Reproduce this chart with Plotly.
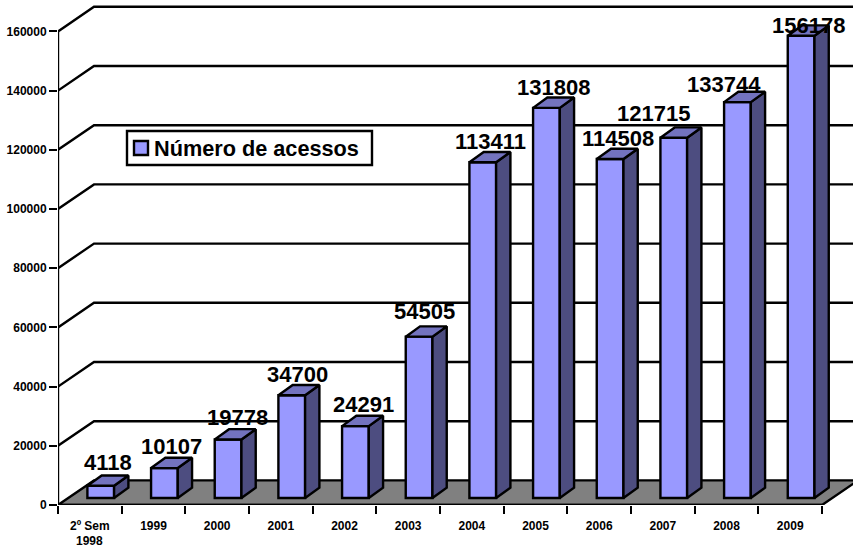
import plotly.graph_objects as go

categories = ["2º Sem", "1999", "2000", "2001", "2002", "2003", "2004", "2005", "2006", "2007", "2008", "2009"]
second_line = "1998"
acessos = [4118, 10107, 19778, 34700, 24291, 54505, 113411, 131808, 114508, 121715, 133744, 156178]
y_ticks = [0, 20000, 40000, 60000, 80000, 100000, 120000, 140000, 160000]
series_name = "Número de acessos"
label_dx = [0, 0, 2, -1, 1, -2, 1, 0, 1, -27, -21, 0]
label_dy = [23, 22, 22, 21, 22, 25, 21, 20, 21, 24, 18, 10]

FONT = "Liberation Sans"
W, H = 853, 548
L, B = 58, 43
PX_X = 63.67            # px per category
PX_Y = 59.2 / 20000     # px per value unit
fx = lambda px: px / PX_X
fy = lambda px: px / PX_Y
xmax = (W - L) / PX_X
ymax = (H - B) / PX_Y
n = len(categories)

# 3-D projection, in data units
back_x, back_y = fx(36), fy(24.6)
bar_dx, bar_dy = fx(14.3), fy(10.3)
bar_w = fx(26.7)
bar_sx, base = fx(10.9), fy(7)
FRONT, SIDE, TOP = "#9999FF", "#4D4D80", "#7373BF"
LW = 2.4

centers = [i + 0.5 + bar_sx for i in range(n)]

side_x, side_y, top_x, top_y = [], [], [], []
for c, v in zip(centers, acessos):
    l, r, t = c - bar_w / 2, c + bar_w / 2, base + v
    side_x += [r, r + bar_dx, r + bar_dx, r, r, None]
    side_y += [base, base + bar_dy, t + bar_dy, t, base, None]
    top_x += [l, l + bar_dx, r + bar_dx, r, l, None]
    top_y += [t, t + bar_dy, t + bar_dy, t, t, None]

fig = go.Figure()
fig.add_bar(x=centers, y=acessos, base=base, width=bar_w, name=series_name,
            marker=dict(color=FRONT, line=dict(color="black", width=LW)), showlegend=False)
fig.add_scatter(x=side_x, y=side_y, mode="lines", fill="toself", fillcolor=SIDE,
                line=dict(color="black", width=LW), showlegend=False, hoverinfo="skip")
fig.add_scatter(x=top_x, y=top_y, mode="lines", fill="toself", fillcolor=TOP,
                line=dict(color="black", width=LW), showlegend=False, hoverinfo="skip")

shapes = []
line = dict(color="black", width=LW)
# floor
shapes.append(dict(type="path", layer="below", xref="x", yref="y", fillcolor="#808080", line=line,
                   path=f"M0,0 L{n},0 L{n + back_x},{back_y} L{back_x},{back_y} Z"))
# grid lines running along the side wall and the back wall
for v in y_ticks[1:]:
    shapes.append(dict(type="path", layer="below", xref="x", yref="y", line=line,
                       path=f"M0,{v} L{back_x},{v + back_y} L{n + back_x},{v + back_y}"))
# axes
shapes.append(dict(type="line", layer="above", xref="x", yref="y", x0=0, x1=0, y0=0, y1=y_ticks[-1], line=line))
shapes.append(dict(type="line", layer="above", xref="x", yref="y", x0=0, x1=n, y0=0, y1=0, line=line))

# legend box
lb = dict(xref="x", yref="y", layer="above")
shapes.append(dict(type="rect", x0=fx(127 - L), x1=fx(372 - L), y0=fy(505 - 165), y1=fy(505 - 131),
                   fillcolor="white", line=line, **lb))
shapes.append(dict(type="rect", x0=fx(134 - L), x1=fx(148 - L), y0=fy(505 - 155), y1=fy(505 - 141),
                   fillcolor=FRONT, line=line, **lb))

ann = []
for c, v, dx, dy in zip(centers, acessos, label_dx, label_dy):
    ann.append(dict(x=c + bar_dx / 2, y=base + v, text=str(v), showarrow=False, xshift=dx, yshift=dy,
                    font=dict(family=FONT, size=22, color="black", weight="bold")))
ann.append(dict(x=fx(154 - L), y=fy(505 - 148), xanchor="left", text=series_name, showarrow=False, borderpad=0,
                borderwidth=0, font=dict(family=FONT, size=21.7, color="black", weight="bold")))
ann.append(dict(x=0.5, y=0, yshift=-36, text=second_line, showarrow=False, borderpad=0, borderwidth=0,
                font=dict(family=FONT, size=12, color="black", weight="bold")))

fig.update_layout(
    width=W, height=H, margin=dict(l=L, r=0, t=0, b=B, pad=0),
    paper_bgcolor="white", plot_bgcolor="white", barmode="overlay",
    shapes=shapes, annotations=ann, showlegend=False,
    xaxis=dict(range=[0, xmax], tickmode="array", tickvals=[i + 0.5 for i in range(n)], ticktext=categories,
               ticks="outside", ticklen=10, tickcolor="rgba(0,0,0,0)", showgrid=False, zeroline=False, showline=False,
               tickfont=dict(family=FONT, size=12, color="black", weight="bold"),
               minor=dict(tickmode="array", tickvals=list(range(n + 1)), ticks="outside", ticklen=8, tickwidth=2,
                          tickcolor="black", showgrid=False)),
    yaxis=dict(range=[0, ymax], tickmode="array", tickvals=y_ticks, ticktext=[str(v) for v in y_ticks],
               ticks="outside", ticklen=8, tickwidth=2, tickcolor="black", showgrid=False, zeroline=False,
               showline=False, tickfont=dict(family=FONT, size=12, color="black", weight="bold")),
)
fig.write_html("out.html", post_script="document.body.style.margin='0';", config={"displayModeBar": False})
